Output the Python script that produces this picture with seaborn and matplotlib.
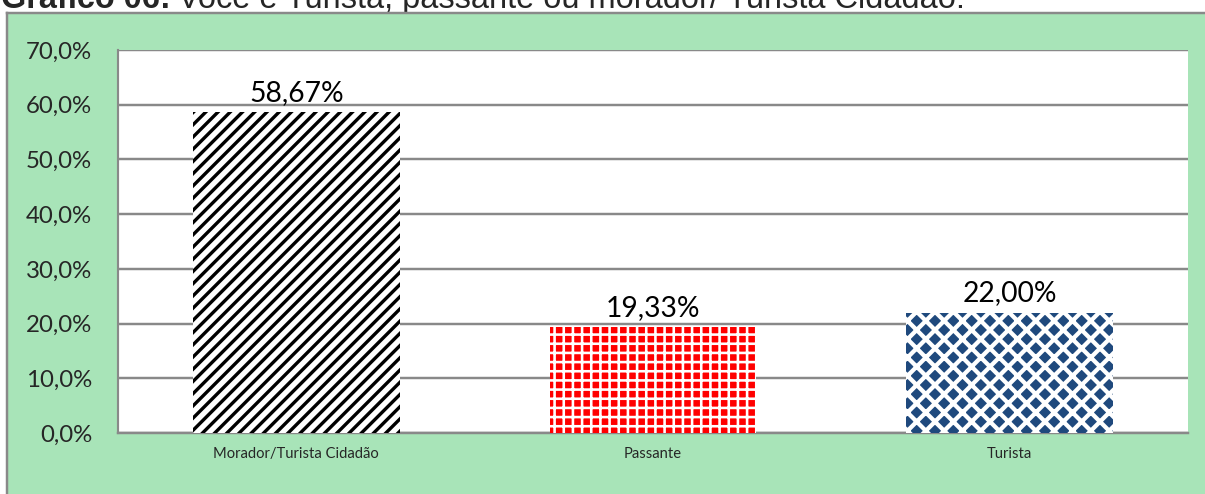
import matplotlib
matplotlib.use('Agg')
import matplotlib.pyplot as plt
import seaborn as sns
from matplotlib.ticker import FuncFormatter

# --- dados ---
categorias = ["Morador/Turista Cidadão", "Passante", "Turista"]
valores = [58.67, 19.33, 22.00]
rotulos = ["58,67%", "19,33%", "22,00%"]
y_ticks = [0, 10, 20, 30, 40, 50, 60, 70]

# --- estilo ---
sns.set_style('white')
plt.rcParams['font.family'] = ['Lato', 'DejaVu Sans']
DPI = 110
W, H = 1205, 494
verde = '#A8E4B8'
cinza = '#898989'

fig = plt.figure(figsize=(W / DPI, H / DPI), dpi=DPI)
fig.patch.set_facecolor('white')

# titulo (cortado no topo, como no original)
fam_titulo = ['Liberation Sans', 'DejaVu Sans']
t1 = fig.text(1 / W, 1 - 8 / H, "Gráfico 06:", fontsize=21.3, fontweight='bold',
              family=fam_titulo, va='baseline', ha='left', zorder=1)
fig.canvas.draw()
bb = t1.get_window_extent()
fig.text((bb.x1 + 7) / W, 1 - 8 / H, "Você é Turista, passante ou morador/ Turista Cidadão:",
         fontsize=21.3, family=fam_titulo, va='baseline', ha='left', zorder=1)

# painel verde com borda cinza
fundo = fig.add_axes([7 / W, -0.05, 1.0, 1.05 - 13 / H])
fundo.set_zorder(5)
fundo.set_facecolor(verde)
fundo.set_xticks([])
fundo.set_yticks([])
for lado in ['right', 'bottom']:
    fundo.spines[lado].set_visible(False)
for lado in ['left', 'top']:
    fundo.spines[lado].set_color(cinza)
    fundo.spines[lado].set_linewidth(1.6)

ax = fig.add_axes([118 / W, 1 - 433 / H, (1188 - 118) / W, (433 - 50) / H])
ax.set_zorder(6)
ax.set_facecolor('white')

sns.barplot(x=categorias, y=valores, ax=ax, width=0.58, color='white',
            saturation=1, linewidth=0, zorder=3)

estilos = [
    dict(face='white', hatch='///', cor='black', lw=2.2),
    dict(face='#FF0000', hatch='++', cor='white', lw=1.7),
    dict(face='#1F497D', hatch='xx', cor='white', lw=2.8),
]
for barra, est in zip(ax.patches, estilos):
    barra.set_facecolor(est['face'])
    barra.set_hatch(est['hatch'])
    barra.set_edgecolor(est['cor'])
    barra.set_linewidth(0)
    if hasattr(barra, 'set_hatch_linewidth'):
        barra.set_hatch_linewidth(est['lw'])

for barra, txt in zip(ax.patches, rotulos):
    ax.annotate(txt, (barra.get_x() + barra.get_width() / 2, barra.get_height()),
                xytext=(0, 4), textcoords='offset points', ha='center', va='bottom',
                fontsize=18.5, color='black')

ax.set_ylim(0, 70)
ax.set_yticks(y_ticks)
ax.yaxis.set_major_formatter(FuncFormatter(lambda v, p: f"{v:.1f}%".replace('.', ',')))
ax.grid(axis='y', color=cinza, linewidth=1.6, zorder=0)
ax.set_axisbelow(True)
ax.tick_params(axis='y', labelsize=15.7, pad=17, length=0)
ax.tick_params(axis='x', labelsize=9.7, pad=9, length=0)
for lado in ['top', 'right']:
    ax.spines[lado].set_visible(False)
ax.spines['left'].set_color(cinza)
ax.spines['left'].set_linewidth(1.4)
ax.spines['bottom'].set_color(cinza)
ax.spines['bottom'].set_linewidth(1.6)
ax.set_xlabel('')
ax.set_ylabel('')

fig.savefig('out.png', dpi=DPI)
